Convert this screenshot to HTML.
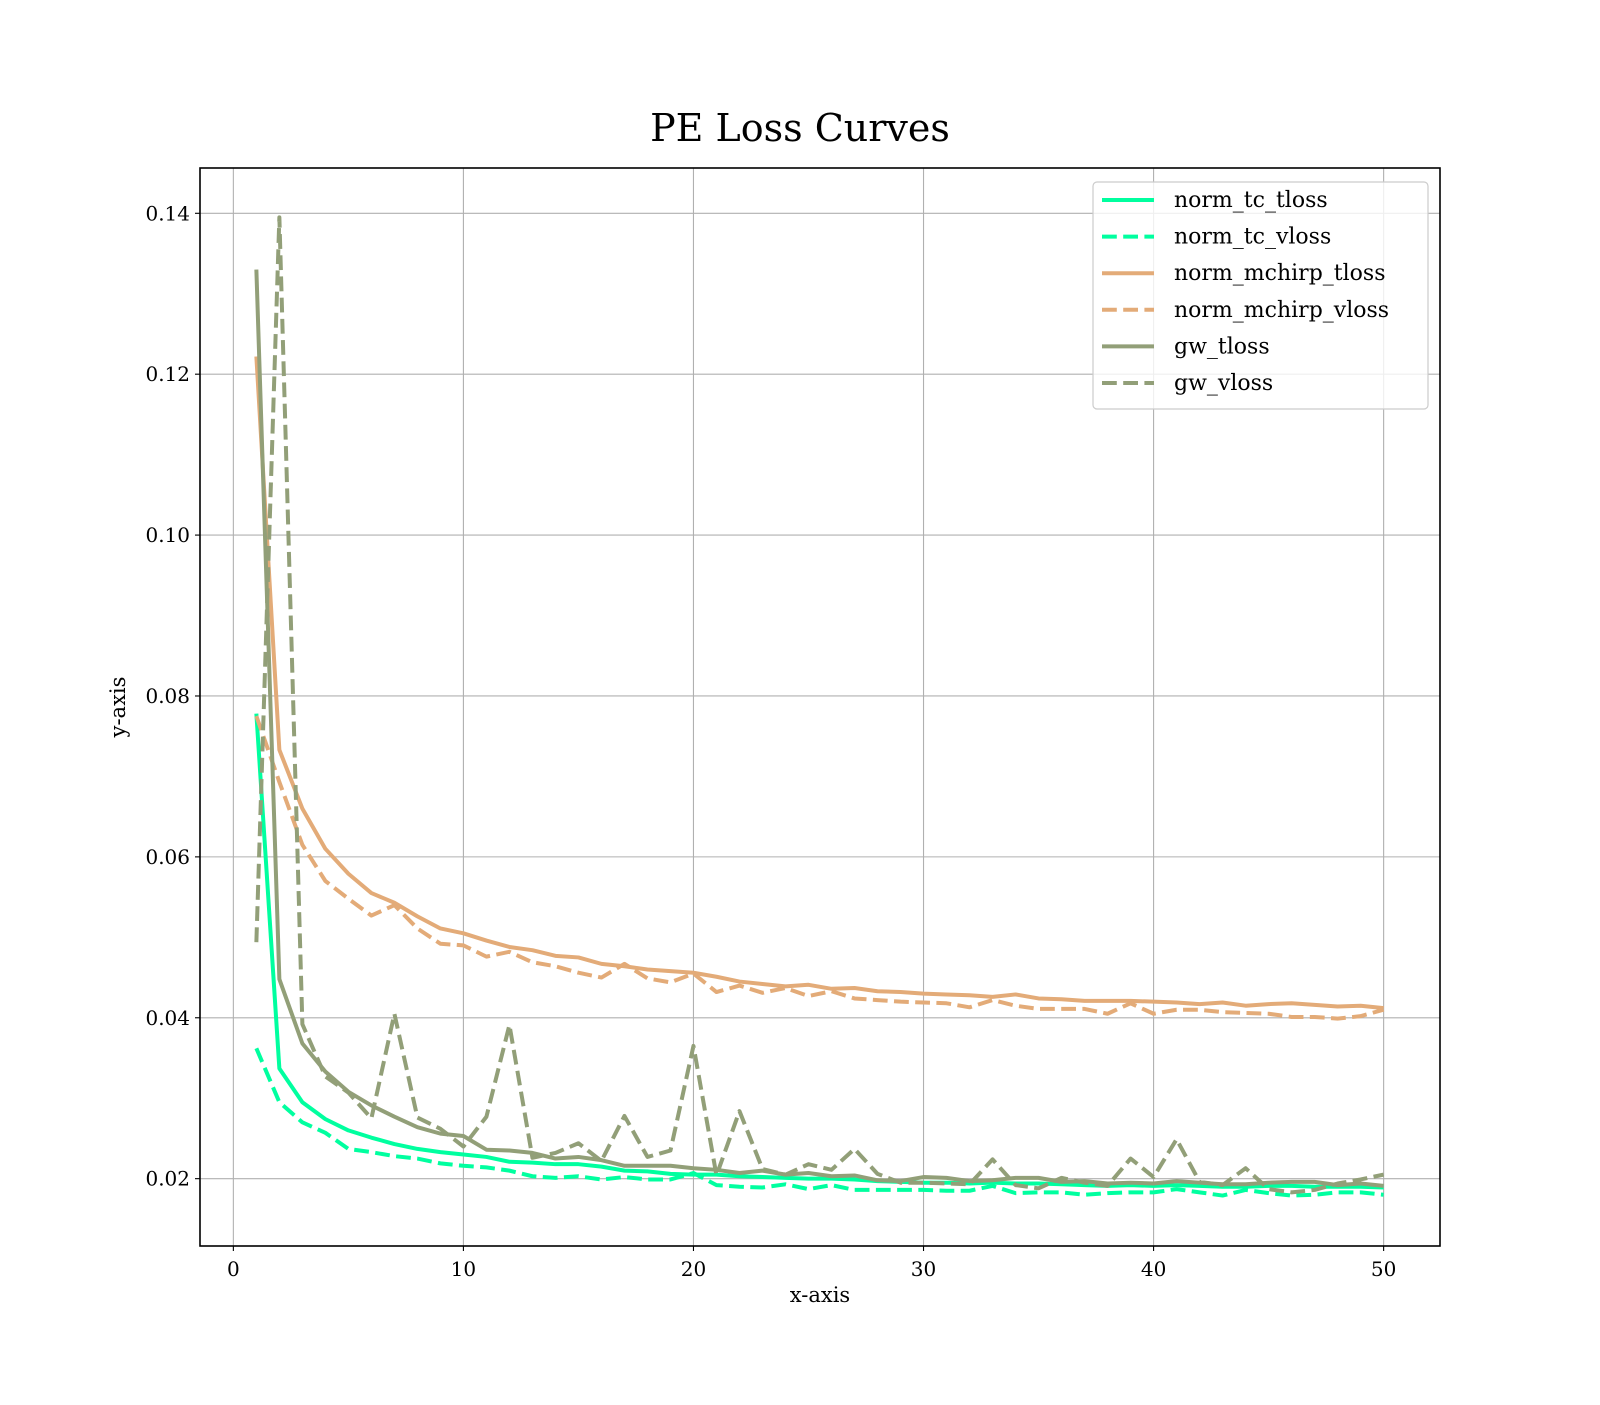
<!DOCTYPE html>
<html><head><meta charset="utf-8"><style>
body{margin:0;background:#fff}
svg text{font-family:"DejaVu Serif","Liberation Serif",serif;fill:#000}
</style></head><body>
<svg id="chart" width="1600" height="1400" xmlns="http://www.w3.org/2000/svg">
<rect width="1600" height="1400" fill="#fff"/>
<text x="800" y="141" font-size="38" text-anchor="middle">PE Loss Curves</text>
<g id="grid"></g>
<g id="series"></g>
<rect x="200" y="168" width="1240" height="1078" fill="none" stroke="#000" stroke-width="1.6"/>
<g id="ticks"></g>
<text x="820" y="1302" font-size="21" text-anchor="middle">x-axis</text>
<text transform="translate(125,707) rotate(-90)" font-size="21" text-anchor="middle">y-axis</text>
<g id="legend"></g>
</svg>
<script>
const epochs = Array.from({length:50},(_,i)=>i+1);
const xTicks = [0,10,20,30,40,50];
const yTicks = [0.02,0.04,0.06,0.08,0.10,0.12,0.14];
const yTickLabels = ["0.02","0.04","0.06","0.08","0.10","0.12","0.14"];
const seriesNames = ["norm_tc_tloss","norm_tc_vloss","norm_mchirp_tloss","norm_mchirp_vloss","gw_tloss","gw_vloss"];
const normTcTloss = [0.0778,0.0337,0.0295,0.0274,0.0260,0.0251,0.0243,0.0237,0.0233,0.0230,0.0227,0.0221,0.0220,0.0218,0.0218,0.0215,0.0210,0.0209,0.0206,0.0205,0.0205,0.0203,0.0202,0.0201,0.0200,0.0200,0.0199,0.0197,0.0196,0.0195,0.0195,0.0194,0.0195,0.0194,0.0194,0.0193,0.0192,0.0191,0.0192,0.0191,0.0192,0.0191,0.0190,0.0190,0.0191,0.0191,0.0190,0.0190,0.0190,0.0189];
const normTcVloss = [0.0362,0.0295,0.0270,0.0257,0.0237,0.0233,0.0228,0.0225,0.0219,0.0216,0.0214,0.0210,0.0203,0.0201,0.0203,0.0199,0.0202,0.0199,0.0199,0.0207,0.0192,0.0190,0.0189,0.0193,0.0187,0.0192,0.0186,0.0186,0.0186,0.0186,0.0185,0.0185,0.0191,0.0182,0.0183,0.0183,0.0180,0.0182,0.0183,0.0183,0.0187,0.0183,0.0179,0.0186,0.0182,0.0179,0.0180,0.0183,0.0183,0.0180];
const normMchirpTloss = [0.1222,0.0733,0.0660,0.0610,0.0579,0.0555,0.0543,0.0526,0.0511,0.0505,0.0496,0.0488,0.0484,0.0477,0.0475,0.0467,0.0464,0.0460,0.0458,0.0456,0.0451,0.0445,0.0442,0.0439,0.0441,0.0436,0.0437,0.0433,0.0432,0.0430,0.0429,0.0428,0.0426,0.0429,0.0424,0.0423,0.0421,0.0421,0.0421,0.0420,0.0419,0.0417,0.0419,0.0415,0.0417,0.0418,0.0416,0.0414,0.0415,0.0412];
const normMchirpVloss = [0.0775,0.0693,0.0615,0.0570,0.0548,0.0527,0.0540,0.0511,0.0492,0.0490,0.0476,0.0482,0.0469,0.0464,0.0456,0.0450,0.0467,0.0449,0.0444,0.0455,0.0432,0.0440,0.0431,0.0437,0.0427,0.0433,0.0424,0.0422,0.0420,0.0419,0.0418,0.0413,0.0422,0.0415,0.0411,0.0411,0.0411,0.0405,0.0418,0.0405,0.0410,0.0410,0.0407,0.0406,0.0405,0.0401,0.0401,0.0399,0.0402,0.0410];
const gwTloss = [0.1330,0.0448,0.0368,0.0333,0.0308,0.0291,0.0277,0.0264,0.0256,0.0253,0.0236,0.0235,0.0232,0.0225,0.0227,0.0223,0.0216,0.0216,0.0216,0.0213,0.0211,0.0207,0.0210,0.0205,0.0207,0.0203,0.0204,0.0198,0.0197,0.0202,0.0201,0.0197,0.0198,0.0201,0.0201,0.0196,0.0197,0.0194,0.0195,0.0194,0.0197,0.0195,0.0193,0.0193,0.0195,0.0196,0.0196,0.0192,0.0194,0.0191];
const gwVloss = [0.0494,0.1395,0.0392,0.0327,0.0307,0.0275,0.0405,0.0276,0.0262,0.0240,0.0277,0.0391,0.0226,0.0232,0.0244,0.0222,0.0278,0.0227,0.0235,0.0365,0.0204,0.0284,0.0212,0.0205,0.0218,0.0211,0.0237,0.0206,0.0195,0.0195,0.0194,0.0193,0.0224,0.0192,0.0188,0.0201,0.0195,0.0191,0.0225,0.0202,0.0249,0.0196,0.0192,0.0213,0.0187,0.0183,0.0186,0.0194,0.0199,0.0205];

const X0=200,X1=1440,Y0=168,Y1=1246;
const xMin=-1.45,xMax=52.45,yMin=0.01163,yMax=0.14563;
const sx=v=>X0+(v-xMin)/(xMax-xMin)*(X1-X0);
const sy=v=>Y1-(v-yMin)/(yMax-yMin)*(Y1-Y0);
const NS="http://www.w3.org/2000/svg";
function mk(tag,attrs,parent){const e=document.createElementNS(NS,tag);for(const k in attrs)e.setAttribute(k,attrs[k]);parent.appendChild(e);return e;}
const grid=document.getElementById('grid'),ticks=document.getElementById('ticks'),ser=document.getElementById('series'),leg=document.getElementById('legend');
xTicks.forEach(t=>{
  const g=mk('line',{x1:sx(t),x2:sx(t),y1:Y0,y2:Y1,stroke:'#b0b0b0','stroke-width':1.1},grid);
  
  
  mk('line',{x1:sx(t),x2:sx(t),y1:Y1,y2:Y1+5,stroke:'#000','stroke-width':1.1},ticks);
  const tx=mk('text',{x:sx(t),y:Y1+30,'font-size':20,'text-anchor':'middle'},ticks);
  tx.textContent=String(t);
  
  
});
yTicks.forEach((t,i)=>{
  const g=mk('line',{x1:X0,x2:X1,y1:sy(t),y2:sy(t),stroke:'#b0b0b0','stroke-width':1.1},grid);
  
  
  mk('line',{x1:X0-5,x2:X0,y1:sy(t),y2:sy(t),stroke:'#000','stroke-width':1.1},ticks);
  const tx=mk('text',{x:X0-10,y:sy(t)+7,'font-size':20,'text-anchor':'end'},ticks);
  tx.textContent=yTickLabels[i];
  
  
});
const allData=[normTcTloss,normTcVloss,normMchirpTloss,normMchirpVloss,gwTloss,gwVloss];
const colors=['#00ff9f','#00ff9f','#e3ab78','#e3ab78','#929f78','#929f78'];
const dashed=[false,true,false,true,false,true];
allData.forEach((d,i)=>{
  const p=mk('polyline',{points:d.map((v,j)=>sx(epochs[j])+','+sy(v)).join(' '),fill:'none',stroke:colors[i],'stroke-width':4,'stroke-linejoin':'round'},ser);
  if(dashed[i])p.setAttribute('stroke-dasharray','14.8,6.4');
  
  
});
const lb=mk('rect',{x:1093,y:182,width:335,height:227,rx:4,fill:'#fff','fill-opacity':0.8,stroke:'#cccccc','stroke-width':1.2},leg);


seriesNames.forEach((n,i)=>{
  const y=200+i*36.6;
  const l=mk('line',{x1:1102,x2:1154,y1:y,y2:y,stroke:colors[i],'stroke-width':4},leg);
  if(dashed[i])l.setAttribute('stroke-dasharray','14.8,6.4');
  
  
  const t=mk('text',{x:1174,y:y+7,'font-size':22},leg);
  t.textContent=n;
  
  
});
</script>
</body></html>
